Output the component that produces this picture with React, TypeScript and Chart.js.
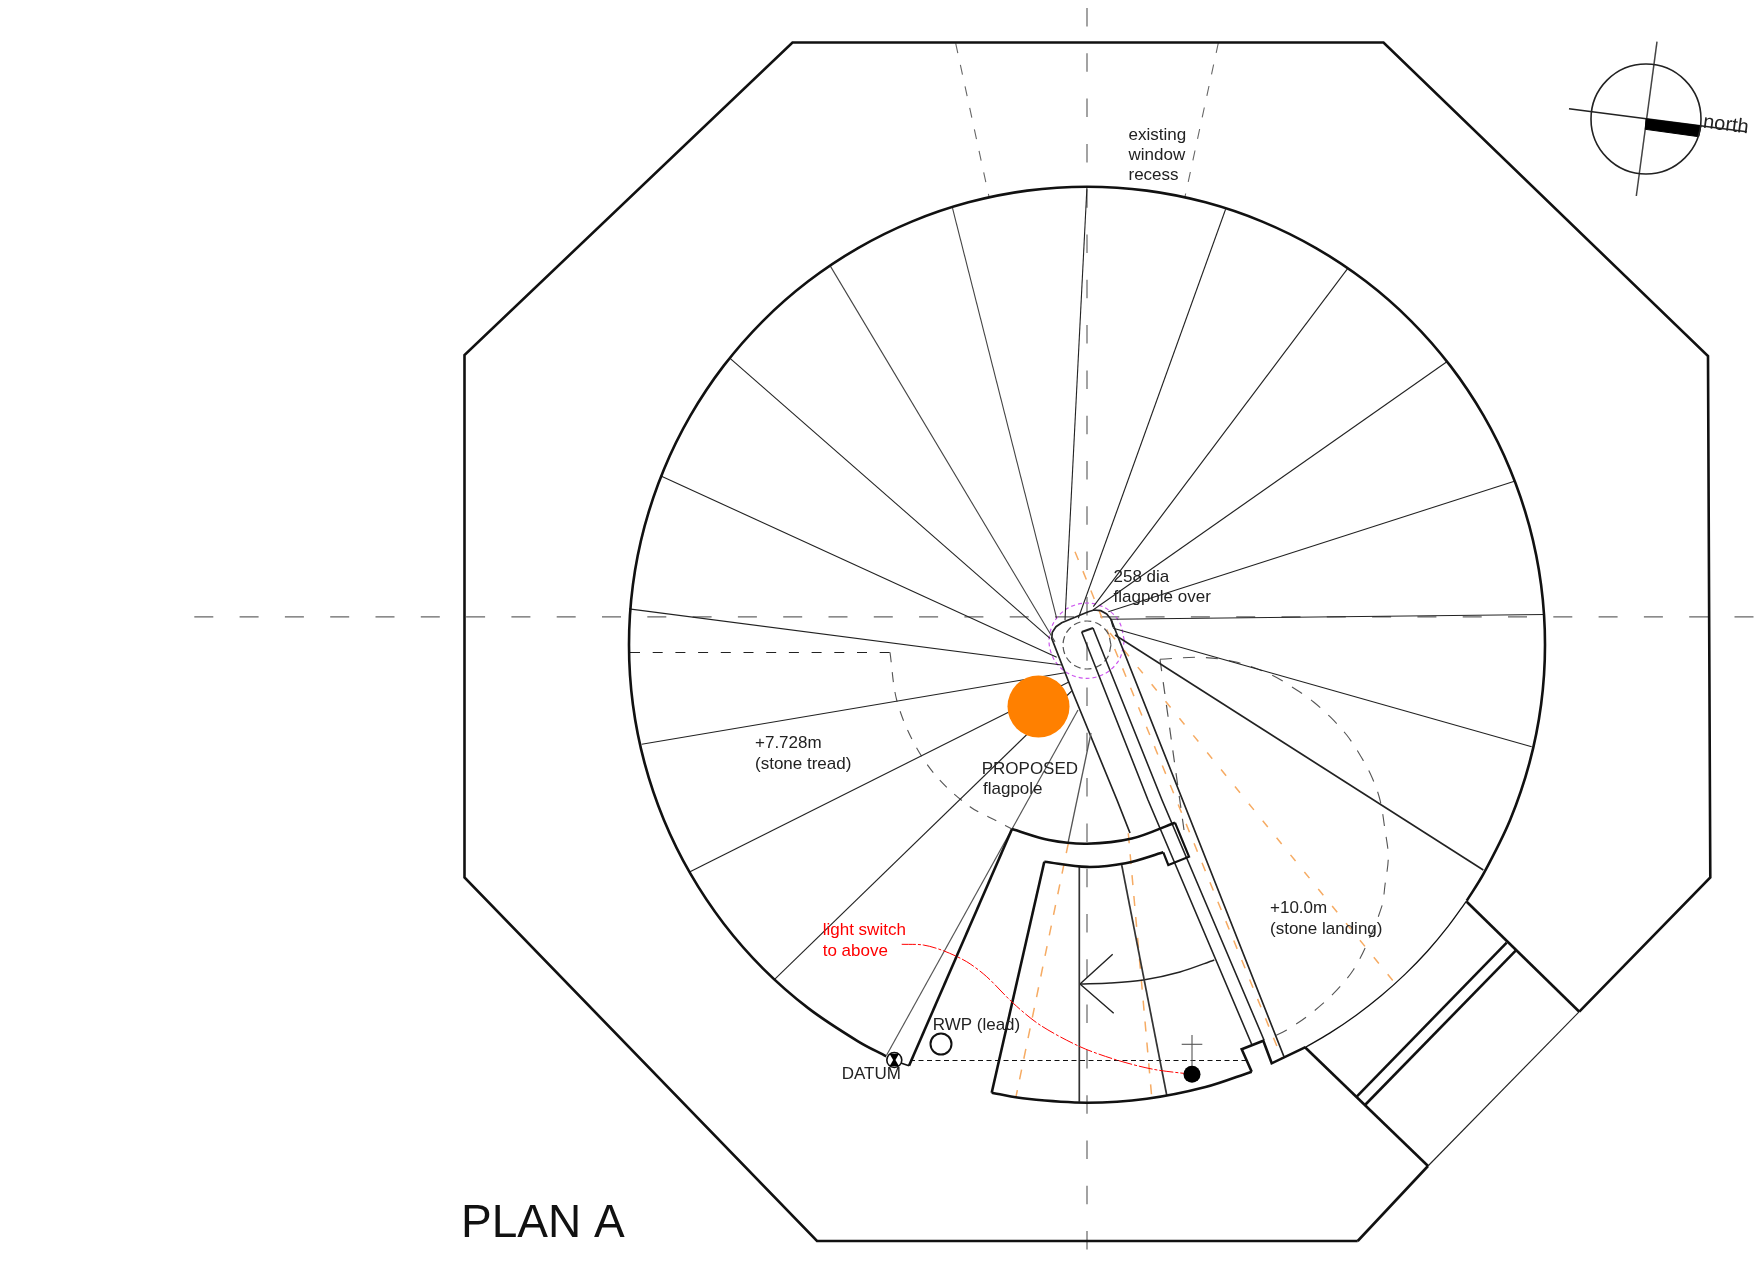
import React, { useEffect, useRef } from "react";
import { Chart, registerables } from "chart.js";

Chart.register(...registerables);

type P = [number, number];

const octagonUpper: P[] = [[1357.7, 1241], [817, 1241], [464.5, 877.5], [464.5, 355], [792.5, 42.5], [1383.5, 42.5], [1708, 356], [1710.3, 877.5], [1579.3, 1011.7]];
const octagonLower: P[] = [[1428, 1166], [1357.7, 1241]];
const octagonThin: P[] = [[1579.3, 1011.7], [1428, 1166]];
const stairTop: P[] = [[1466.7, 901.7], [1579.3, 1011.7]];
const stairBottom: P[] = [[1305, 1047.3], [1428, 1166]];
const stairRail1: P[] = [[1506.7, 942.7], [1356.7, 1096.7]];
const stairRail2: P[] = [[1515.7, 950.7], [1365, 1105]];

const circleThick: P[] = [[886.2, 1056.3], [858, 1041.3], [808.2, 1008.1], [763.1, 968.6], [723.6, 923.5], [690.4, 873.7], [663.9, 820], [644.6, 763.2], [632.9, 704.5], [629, 644.7], [632.9, 584.9], [644.6, 526.2], [663.9, 469.4], [690.4, 415.7], [723.6, 365.9], [763.1, 320.8], [808.2, 281.3], [858, 248.1], [911.7, 221.6], [968.5, 202.3], [1027.2, 190.6], [1087, 186.7], [1146.8, 190.6], [1205.5, 202.3], [1262.3, 221.6], [1316, 248.1], [1365.8, 281.3], [1410.9, 320.8], [1450.4, 365.9], [1483.6, 415.7], [1510.1, 469.4], [1529.4, 526.2], [1541.1, 584.9], [1545, 644.7], [1541.1, 704.5], [1529.4, 763.2], [1510.1, 820], [1483.6, 873.7], [1466.7, 900.8]];
const circleThin: P[] = [[1466.7, 900.8], [1447.9, 926.7], [1427.4, 951.2], [1405.2, 974.1], [1381.4, 995.5], [1356.2, 1015.2], [1329.7, 1033.1], [1305.5, 1047.2]];
const arcBottom: P[] = [[991.7, 1092.7], [1027.2, 1098.8], [1087, 1102.7], [1146.8, 1098.8], [1205.5, 1087.1], [1251.7, 1071.7]];
const landingStep: P[] = [[1251.7, 1071.7], [1241.7, 1049.3], [1263.3, 1040.7], [1271.7, 1063.3], [1305.5, 1047.2]];
const arcUpper: P[] = [[1012, 829], [1049, 840], [1087, 843.7], [1131.8, 838.6], [1175, 822.7]];
const arcStep: P[] = [[1175, 822.7], [1189, 856.7], [1168.3, 865], [1163.3, 852.3]];
const arcInner: P[] = [[1163.3, 852.3], [1125.5, 863.3], [1087, 866.9], [1044.3, 861.7]];
const wellLeft: P[] = [[1044.3, 861.7], [991.7, 1092.7]];
const wellOuter: P[] = [[909, 1065.7], [1012, 829]];
const wellFoot: P[] = [[900, 1062.7], [909, 1065.7]];

const treadOuterEnds: P[] = [[952.5, 208.2], [830.5, 266.4], [729.8, 358.2], [660.4, 475.7], [629, 608.9], [641.7, 744.3], [689.5, 871.9], [774.6, 979.4], [1086.9, 188], [1225.6, 209.3], [1347.6, 268.6], [1447.2, 361.5], [1514.4, 481.3], [1544.6, 614.5], [1531.7, 746.7], [1483.3, 870]];
const treadHubEnds: P[] = [[1056.7, 618.3], [1055, 641.7], [1050, 638.3], [1056.7, 657.3], [1061.7, 665], [1065, 672.7], [1068.3, 682.3], [1071.7, 691], [1065, 620], [1078.3, 618.3], [1093.3, 606.7], [1093, 610], [1108.3, 611.7], [1110, 619.3], [1113.3, 628.3], [1115, 635]];

const datumRay: P[] = [[886.7, 1055], [1078, 710]];
const greyRay: P[] = [[1091, 733], [1068, 843]];

const hubOutline: P[] = [[1113.3, 627.3], [1111, 619.3], [1106.7, 614], [1100.7, 610.7], [1094, 610], [1088.3, 611.7], [1061.7, 622.7], [1056, 626.7], [1052.3, 632.3], [1051.7, 638.3], [1073, 693], [1117, 800], [1130, 833]];
const outerStringer: P[] = [[1111, 619.3], [1182.6, 800], [1284, 1056.7]];
const railLeft: P[] = [[1081.7, 632], [1148, 800], [1252, 1045]];
const railRight: P[] = [[1093, 628], [1162, 800], [1264, 1040]];
const railCap: P[] = [[1081.7, 632], [1093, 628]];

const flightCentre: P[] = [[1079.3, 866.7], [1079.3, 1101.7]];
const flightRight: P[] = [[1121.7, 865], [1166.7, 1095]];
const arrowCurve: P[] = [[1214.3, 960], [1180, 972], [1143.3, 980], [1110, 983], [1080, 984]];
const arrowHead: P[] = [[1112.7, 954.3], [1080, 984], [1113.7, 1013.3]];

const centreH: P[] = [[194.3, 616.8], [1755, 616.8]];
const centreV: P[] = [[1087, 8], [1087, 1250]];
const windowLeft: P[] = [[955.7, 43.3], [989, 196.7]];
const windowRight: P[] = [[1218.3, 43], [1185, 196.7]];
const datumLevel: P[] = [[910, 1060.5], [1246.7, 1060.5]];

const treadDashH: P[] = [[630, 652.5], [890, 652.5]];
const treadDashArc: P[] = [[890, 652.3], [896.7, 700], [913.3, 741.7], [936.7, 776.7], [970, 806.7], [998.3, 821.7], [1012, 829]];
const landingDashArc: P[] = [[1160, 659.3], [1200, 657.3], [1236, 662], [1271.7, 675], [1296.7, 690], [1313.3, 701.7], [1330, 716.7], [1346.7, 735], [1360, 755], [1371.7, 776.7], [1380, 800], [1385, 830], [1388.3, 856.7], [1385, 885], [1381.7, 906.7], [1365, 948.3], [1353.3, 970], [1340, 986.7], [1325, 1001.7], [1306.7, 1016.7], [1286.7, 1030], [1271.7, 1037.3]];
const landingDashV: P[] = [[1160, 659.3], [1184, 830]];

const hubDashCircle: P[] = [[1111, 645], [1107.8, 657], [1099, 665.8], [1087, 669], [1075, 665.8], [1066.2, 657], [1063, 645], [1066.2, 633], [1075, 624.2], [1087, 621], [1099, 624.2], [1107.8, 633], [1111, 645]];
const flagpoleOver: P[] = [[1124.4, 640.7], [1119.3, 659.6], [1105.6, 673.3], [1086.7, 678.4], [1067.9, 673.3], [1054.1, 659.6], [1049, 640.7], [1054.1, 621.9], [1067.9, 608.1], [1086.7, 603], [1105.6, 608.1], [1119.3, 621.9], [1124.4, 640.7]];

const orangeA: P[] = [[1068.3, 843.3], [1016, 1096.7]];
const orangeB: P[] = [[1128.3, 833.3], [1151.7, 1096.7]];
const orangeC: P[] = [[1075, 551.7], [1281.7, 1058]];
const orangeD: P[] = [[1110, 633], [1395, 983.3]];

const redLead: P[] = [[901.7, 944.3], [923.3, 945], [943.3, 950.7], [966.7, 961.7], [986.7, 976.7], [1013.3, 1003.3], [1040, 1025], [1080, 1046.7], [1116.7, 1060], [1153.3, 1069.3], [1191.7, 1074.3]];
const switchStem: P[] = [[1192, 1035], [1192, 1067]];
const switchBar: P[] = [[1181.7, 1044.3], [1202.3, 1044.3]];

const northAxisH: P[] = [[1569, 108.7], [1746.7, 131.7]];
const northAxisV: P[] = [[1657, 41.7], [1636.3, 196]];
const northBar: P[] = [[1646, 119], [1701, 126], [1698.7, 136.7], [1645.3, 129.3], [1646, 119]];

const proposedFlagpole: P[] = [[1038.5, 706.5]];
const rwp: P[] = [[941, 1044]];
const switchDot: P[] = [[1192, 1074.3]];
const datumMark: P[] = [[894.3, 1060]];
const datumTop: P[] = [[894.3, 1056.5]];
const datumBottom: P[] = [[894.3, 1063.5]];
const northCircle: P[] = [[1646, 119]];

const labelTexts = ["existing", "window", "recess", "258 dia", "flagpole over", "+7.728m", "(stone tread)", "PROPOSED", "flagpole", "+10.0m", "(stone landing)", "light switch", "to above", "RWP (lead)", "DATUM", "PLAN A", "north"];
const labelX = [1128.5, 1128.5, 1128.5, 1113.5, 1113.5, 755, 755, 981.7, 983, 1270, 1270, 822.7, 822.7, 932.7, 841.7, 461, 1703.3];
const labelY = [135.3, 155.5, 175.6, 577, 597, 743.3, 764, 769.3, 789.3, 908.3, 929.3, 930.7, 951.7, 1025.7, 1074, 1224, 122];
const labelSize = [17, 17, 17, 17, 17, 17, 17, 17, 17, 17, 17, 17, 17, 17, 17, 46, 20];
const labelColor = ["#222", "#222", "#222", "#222", "#222", "#222", "#222", "#222", "#222", "#222", "#222", "#f00", "#f00", "#222", "#222", "#111", "#222"];
const labelTilt = [0, 0, 0, 0, 0, 0, 0, 0, 0, 0, 0, 0, 0, 0, 0, 0, 7.5];

const pts = (a: P[]) => a.map(([x, y]) => ({ x, y }));
const line = (a: P[], width: number, color: string, dash: number[] = [], tension = 0) => ({
  data: pts(a), showLine: true, pointRadius: 0, pointHoverRadius: 0, borderWidth: width, borderColor: color,
  borderDash: dash, tension, fill: false, borderCapStyle: "butt", borderJoinStyle: "miter",
});
const marker = (a: P[], radius: number, fillColor: string, strokeColor: string, w: number, style = "circle", rot = 0) => ({
  data: pts(a), showLine: false, pointRadius: radius, pointHoverRadius: radius, pointStyle: style, pointRotation: rot,
  pointBackgroundColor: fillColor, pointBorderColor: strokeColor, pointBorderWidth: w,
});

const labelsPlugin = {
  id: "drawingLabels",
  afterDatasetsDraw(chart: any) {
    const { ctx, scales } = chart;
    labelTexts.forEach((t, i) => {
      ctx.save();
      ctx.translate(scales.x.getPixelForValue(labelX[i]), scales.y.getPixelForValue(labelY[i]));
      ctx.rotate((labelTilt[i] * Math.PI) / 180);
      ctx.font = `${labelSize[i]}px "Liberation Sans"`;
      ctx.fillStyle = labelColor[i];
      ctx.textAlign = "left";
      ctx.textBaseline = "middle";
      ctx.fillText(t, 0, 0);
      ctx.restore();
    });
  },
};

export default function App() {
  const ref = useRef<HTMLCanvasElement>(null);
  useEffect(() => {
    const thick = 2.6, ink = "#111", grey = "#555", orange = "#f6ab63";
    const treads = treadOuterEnds.map((p, i) => line([p, treadHubEnds[i]], i === 15 ? 1.6 : 1.1, i === 0 || i === 1 ? "#444" : "#222"));
    const chart = new Chart(ref.current as HTMLCanvasElement, {
      type: "scatter",
      data: {
        datasets: [
          marker(datumTop, 5.5, "#000", "#000", 0, "triangle", 180),
          marker(datumBottom, 5.5, "#000", "#000", 0, "triangle", 0),
          marker(datumMark, 7.5, "#fff", "#111", 1.6),
          marker(switchDot, 8.5, "#000", "#000", 0),
          line(redLead, 1, "#f00", [14, 2, 3, 2], 0.3),
          marker(proposedFlagpole, 31, "#ff8000", "#ff8000", 0),
          marker(rwp, 10.5, "rgba(255,255,255,0)", "#111", 2),
          marker(northCircle, 55, "rgba(255,255,255,0)", "#222", 1.6),
          { ...line(northBar, 1, "#000"), fill: "shape", backgroundColor: "#000" },
          line(northAxisH, 1.5, "#222"),
          line(northAxisV, 1.5, "#444"),
          line(octagonUpper, thick, ink),
          line(octagonLower, thick, ink),
          line(octagonThin, 1.1, "#222"),
          line(stairTop, thick, ink),
          line(stairBottom, thick, ink),
          line(stairRail1, thick, ink),
          line(stairRail2, thick, ink),
          line(circleThick, thick, ink, [], 0.333),
          line(circleThin, 1.3, ink, [], 0.333),
          line(arcBottom, thick, ink, [], 0.333),
          line(landingStep, thick, ink),
          line(arcUpper, thick, ink, [], 0.333),
          line(arcStep, 2.2, ink),
          line(arcInner, thick, ink, [], 0.333),
          line(wellLeft, thick, ink),
          line(wellOuter, thick, ink),
          line(wellFoot, 1.5, ink),
          ...treads,
          line(datumRay, 1.2, grey),
          line(greyRay, 1.3, grey),
          line(hubOutline, 1.7, "#222"),
          line(outerStringer, 1.7, "#222"),
          line(railLeft, 1.6, "#222"),
          line(railRight, 1.6, "#222"),
          line(railCap, 2, "#222"),
          line(flightCentre, 1.7, "#333"),
          line(flightRight, 1.7, "#333"),
          line(arrowCurve, 1.4, "#222", [], 0.3),
          line(arrowHead, 1.4, "#222"),
          line(switchStem, 1.1, grey),
          line(switchBar, 1.1, grey),
          line(datumLevel, 1, "#111", [5, 3.5]),
          line(treadDashH, 1, "#222", [10, 12.7]),
          line(treadDashArc, 1.1, grey, [10, 10], 0.333),
          line(landingDashArc, 1.1, grey, [12, 11], 0.333),
          line(landingDashV, 1.2, grey, [12, 11]),
          line(hubDashCircle, 1.2, grey, [7, 4], 0.333),
          line(flagpoleOver, 1.2, "#cc55ee", [4, 3], 0.333),
          line(orangeA, 1.5, orange, [10, 11]),
          line(orangeB, 1.5, orange, [10, 11]),
          line(orangeC, 1.5, orange, [9, 12]),
          line(orangeD, 1.5, orange, [8, 14]),
          line(centreH, 1.2, "#666", [19, 26.3]),
          line(centreV, 1.2, "#666", [18.5, 26.8]),
          line(windowLeft, 1.1, "#666", [10, 12]),
          line(windowRight, 1.1, "#666", [10, 12]),
        ] as any,
      },
      options: {
        animation: false,
        responsive: false,
        layout: { padding: 0, autoPadding: false },
        clip: false,
        plugins: { legend: { display: false }, tooltip: { enabled: false } },
        scales: {
          x: { type: "linear", min: 0, max: 1755, display: false },
          y: { type: "linear", min: 0, max: 1273, reverse: true, display: false },
        },
      } as any,
      plugins: [labelsPlugin],
    });
    return () => chart.destroy();
  }, []);
  return (
    <canvas
      ref={ref}
      width={1755}
      height={1273}
      style={{ position: "absolute", left: 0, top: 0, width: 1755, height: 1273, display: "block", background: "#fff" }}
    />
  );
}
